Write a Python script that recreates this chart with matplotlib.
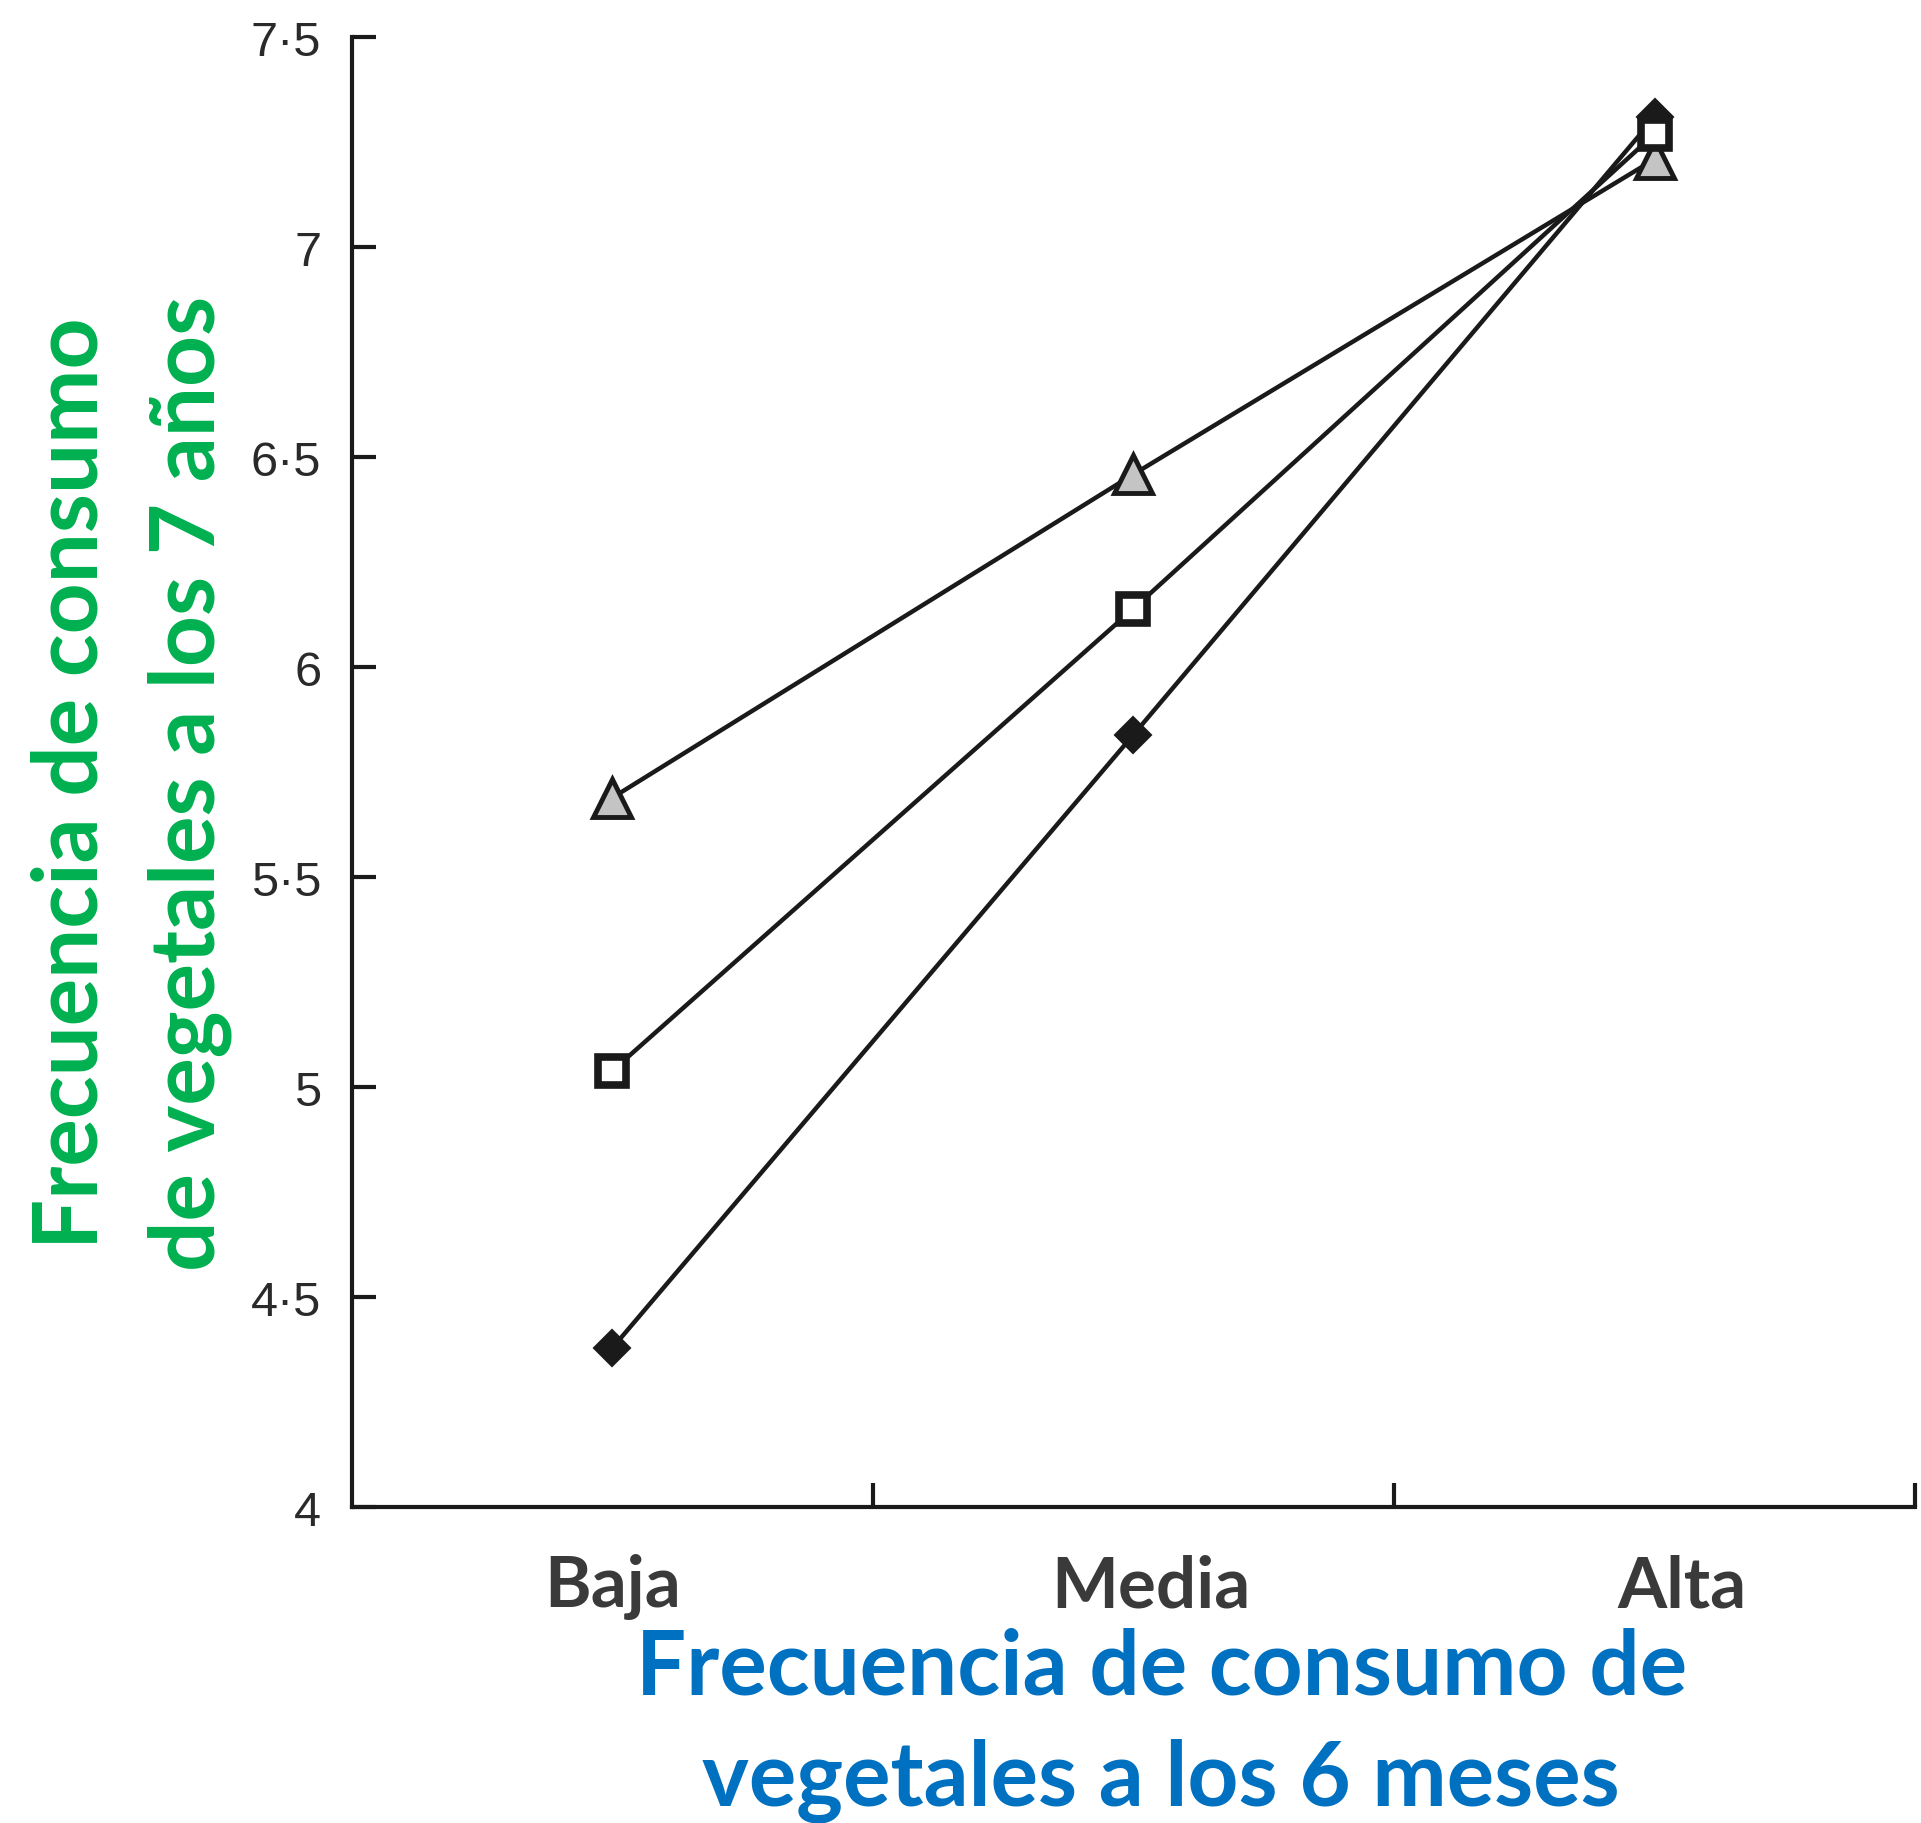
import matplotlib
matplotlib.use("Agg")
import matplotlib.pyplot as plt

# Data
categories = ["Baja", "Media", "Alta"]
triangle_vals = [5.69, 6.46, 7.21]
square_vals = [5.04, 6.14, 7.27]
diamond_vals = [4.38, 5.84, 7.31]

yticks = [4, 4.5, 5, 5.5, 6, 6.5, 7, 7.5]
ytick_labels = ["4", "4·5", "5", "5·5", "6", "6·5", "7", "7·5"]

DPI = 100
fig = plt.figure(figsize=(19.21, 18.24), dpi=DPI)
ax = fig.add_axes([0.1832, 0.173, 0.8137, 0.8059])

xpos = [i + 0.5 for i in range(len(categories))]
lw = 3.2

# diamond series
ax.plot(xpos, diamond_vals, color="#1a1a1a", lw=lw, marker="D", ms=18,
        mfc="#1a1a1a", mec="#1a1a1a", mew=1.5, zorder=3)
# triangle series
ax.plot(xpos, triangle_vals, color="#1a1a1a", lw=lw, marker="^", ms=27,
        mfc="#c4c4c4", mec="#1a1a1a", mew=3.5, zorder=4)
# square series
ax.plot(xpos, square_vals, color="#1a1a1a", lw=lw, marker="s", ms=20,
        mfc="white", mec="#1a1a1a", mew=5.5, zorder=5)

ax.set_xlim(0, 3)
ax.set_ylim(4, 7.5)
for side in ["top", "right"]:
    ax.spines[side].set_visible(False)
for side in ["left", "bottom"]:
    ax.spines[side].set_linewidth(3)
    ax.spines[side].set_color("#1a1a1a")

ax.set_yticks(yticks)
ax.set_yticklabels(ytick_labels, family="Liberation Sans", fontsize=35, color="#2a2a2a")
ax.tick_params(axis="y", direction="in", length=17, width=3, pad=22, color="#1a1a1a")

ax.set_xticks([1, 2, 3])
ax.set_xticklabels([])
ax.tick_params(axis="x", which="major", direction="in", length=17, width=3, color="#1a1a1a")
# category labels sit slightly right of the category centres in the original
ax.set_xticks([0.5, 1.533, 2.553], minor=True)
ax.set_xticklabels(categories, minor=True, family="Lato", fontweight="bold",
                   fontsize=51, color="#3a3a3a")
ax.tick_params(axis="x", which="minor", length=0, pad=33)

# x title (two lines)
fig.text(0.6045, 1 - 1695 / 1824, "Frecuencia de consumo de", family="Lato",
         fontweight="bold", fontsize=64, color="#0070C0", ha="center", va="baseline")
fig.text(0.6045, 1 - 1805 / 1824, "vegetales a los 6 meses", family="Lato",
         fontweight="bold", fontsize=64, color="#0070C0", ha="center", va="baseline")

# y title (two rotated lines)
fig.text(98 / 1921, 0.5707, "Frecuencia de consumo", family="Lato",
         fontweight="bold", fontsize=64, color="#00B050", ha="center", va="baseline",
         rotation=90, rotation_mode="anchor")
fig.text(214 / 1921, 0.5707, "de vegetales a los 7 años", family="Lato",
         fontweight="bold", fontsize=64, color="#00B050", ha="center", va="baseline",
         rotation=90, rotation_mode="anchor")

fig.savefig("out.png", dpi=DPI)
